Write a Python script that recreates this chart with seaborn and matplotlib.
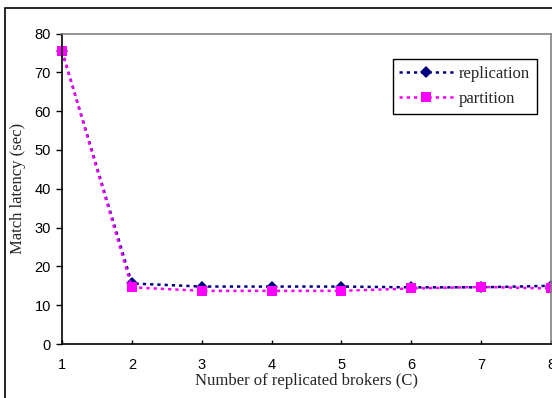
import matplotlib
matplotlib.use("Agg")
import matplotlib.pyplot as plt
import seaborn as sns
import pandas as pd
from matplotlib.patches import Rectangle
from matplotlib.lines import Line2D

brokers = [1, 2, 3, 4, 5, 6, 7, 8]
replication = [75.5, 15.6, 14.8, 14.8, 14.8, 14.6, 14.6, 15.0]
partition = [75.5, 14.6, 13.7, 13.7, 13.7, 14.3, 14.7, 14.3]
x_ticks = [1, 2, 3, 4, 5, 6, 7, 8]
y_ticks = [0, 10, 20, 30, 40, 50, 60, 70, 80]

sns.set_theme(style="white")
plt.rcParams["font.family"] = ["Liberation Sans", "DejaVu Sans"]

df = pd.DataFrame({
    "C": brokers * 2,
    "latency": replication + partition,
    "series": ["replication"] * len(brokers) + ["partition"] * len(brokers),
})

fig = plt.figure(figsize=(5.52, 3.98), dpi=100)
ax = fig.add_axes([62 / 552, 1 - 344 / 398, (551 - 62) / 552, (344 - 33.5) / 398])

sns.lineplot(
    data=df, x="C", y="latency", hue="series", style="series",
    palette={"replication": "#000080", "partition": "#FF00FF"},
    markers={"replication": "D", "partition": "s"},
    dashes={"replication": (1.3, 1.6), "partition": (1.3, 1.6)},
    markersize=6.5, linewidth=1.8, markeredgewidth=0, ax=ax, legend=False,
    clip_on=False,
)
# slightly larger square markers
for line in ax.lines:
    if line.get_marker() == "s":
        line.set_markersize(7.5)

ax.set_xlim(1, 8)
ax.set_ylim(0, 80)
ax.set_xticks(x_ticks)
ax.set_yticks(y_ticks)
ax.tick_params(axis="both", labelsize=10.5, colors="black")
ax.tick_params(axis="y", direction="out", length=4, width=1, left=True, pad=4)
ax.tick_params(axis="x", direction="in", length=3, width=1, bottom=True, pad=10)

for side in ("left", "bottom"):
    ax.spines[side].set_color("black")
    ax.spines[side].set_linewidth(1.2)
for side in ("top", "right"):
    ax.spines[side].set_color("#808080")
    ax.spines[side].set_linewidth(1.2)

ax.set_xlabel("Number of replicated brokers (C)", family=["Liberation Serif"], fontsize=12, labelpad=1)
ax.set_ylabel("Match latency (sec)", family=["Liberation Serif"], fontsize=12, labelpad=6)

handles = [
    Line2D([], [], color="#000080", marker="D", markersize=6.5, linewidth=1.8,
           dashes=(1.3, 1.6), markeredgewidth=0),
    Line2D([], [], color="#FF00FF", marker="s", markersize=7.5, linewidth=1.8,
           dashes=(1.3, 1.6), markeredgewidth=0),
]
leg = ax.legend(handles, ["replication", "partition"], loc="upper right",
                bbox_to_anchor=(537 / 552, 1 - 59 / 398), bbox_transform=fig.transFigure,
                borderaxespad=0, frameon=True, fancybox=False, edgecolor="black",
                framealpha=1, prop={"family": "Liberation Serif", "size": 12},
                handlelength=3.2, handletextpad=0.4, borderpad=0.4, labelspacing=0.55)
leg.get_frame().set_linewidth(1.0)

fig.patches.append(Rectangle((5.5 / 552, -0.05), 1.1, 1 - 7.5 / 398 + 0.05,
                             transform=fig.transFigure, fill=False,
                             edgecolor="black", linewidth=1.2))

fig.savefig("out.png", dpi=100)
